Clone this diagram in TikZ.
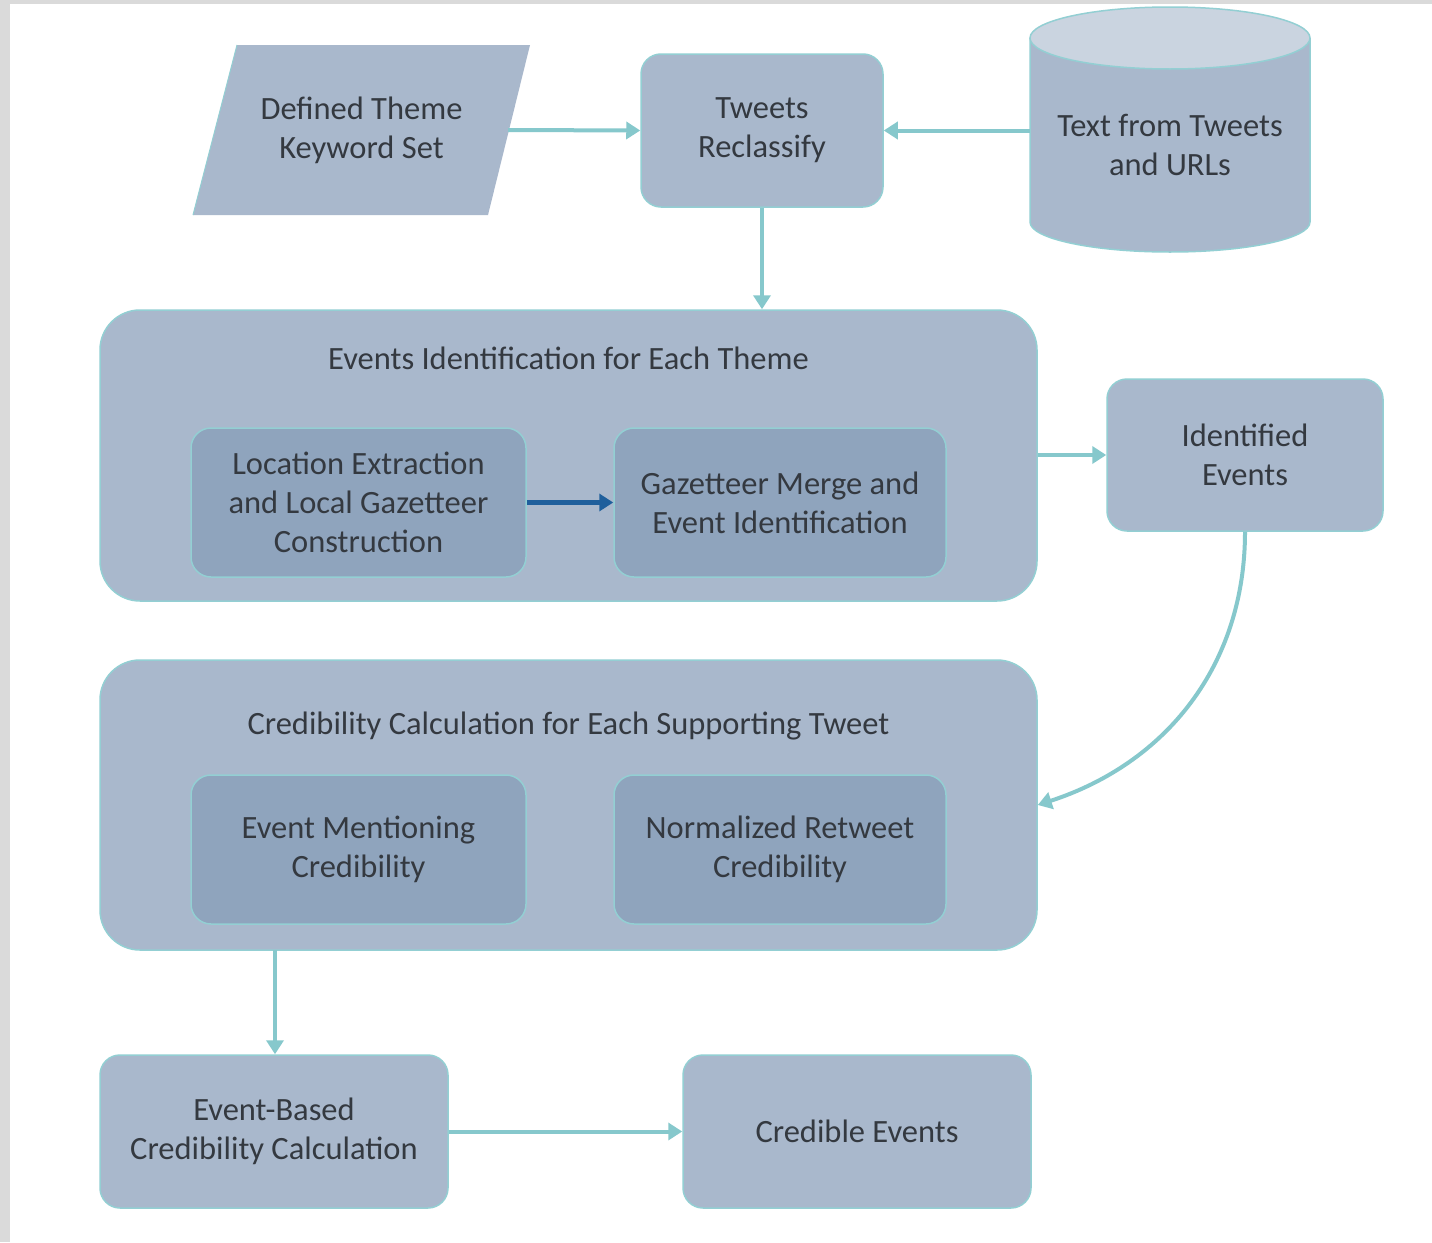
\documentclass[tikz,border=0pt]{standalone}
\usepackage{fontspec}
\setmainfont{Carlito}
\usetikzlibrary{arrows.meta}
\definecolor{boxfill}{HTML}{A9B8CC}
\definecolor{innerfill}{HTML}{8FA4BD}
\definecolor{edgec}{HTML}{93CFD3}
\definecolor{arrc}{HTML}{86C8CC}
\definecolor{darkarr}{HTML}{1F5F9C}
\definecolor{txt}{HTML}{343940}
\definecolor{cyltop}{HTML}{CAD4E0}
\definecolor{frame}{HTML}{DADADA}
\begin{document}
\begin{tikzpicture}[x=1pt,y=-1pt,
  every node/.style={font=\fontsize{32.5}{39}\selectfont, text=txt, align=center},
  rbox/.style={draw=edgec, line width=1.5pt, fill=boxfill, rounded corners=20pt, inner sep=0pt},
  ibox/.style={draw=edgec, line width=1.5pt, fill=innerfill, rounded corners=20pt, inner sep=0pt},
  bigbox/.style={draw=edgec, line width=1.5pt, fill=boxfill, rounded corners=40pt, inner sep=0pt},
  arr/.style={draw=arrc, line width=4pt, -{Triangle[length=14pt,width=17pt]}},
  darr/.style={draw=darkarr, line width=4.5pt, -{Triangle[length=14pt,width=17pt]}}
]
\fill[frame] (0,0) rectangle (1432,1242);
\fill[white] (10,4) rectangle (1432,1242);
\useasboundingbox (0,0) rectangle (1432,1242);

% parallelogram
\fill[boxfill] (237,45) -- (530,45) -- (488,215) -- (193,215) -- cycle;
\draw[edgec, line width=1pt] (237,45) -- (193,215);
\node[minimum width=293pt, minimum height=170pt, inner sep=0pt] (pg) at (361.5,130) {Defined Theme\\Keyword Set};

% tweets reclassify
\node[rbox, minimum width=242pt, minimum height=153pt] (tw) at (762,130.5) {Tweets\\Reclassify};

% cylinder
\filldraw[fill=boxfill, draw=edgec, line width=1.5pt] (1030,38) -- (1030,222) arc[start angle=180, end angle=0, x radius=140, y radius=30] -- (1310,38);
\filldraw[fill=cyltop, draw=edgec, line width=1.5pt] (1170,38) ellipse[x radius=140, y radius=31];
\node[minimum width=280pt, minimum height=200pt, inner sep=0pt] (cyl) at (1170,145) {Text from Tweets\\and URLs};

% events identification
\node[bigbox, minimum width=937pt, minimum height=291pt] (ev) at (568.5,455.5) {};
\node (evt) at (568.5,358) {Events Identification for Each Theme};
\node[ibox, minimum width=335pt, minimum height=149pt] (loc) at (358.5,502.5) {Location Extraction\\and Local Gazetteer\\Construction};
\node[ibox, minimum width=332pt, minimum height=149pt] (gaz) at (780,502.5) {Gazetteer Merge and\\Event Identification};

% identified events
\node[rbox, minimum width=276pt, minimum height=152pt] (ie) at (1245,455) {Identified\\Events};

% credibility calculation
\node[bigbox, minimum width=937pt, minimum height=290pt] (cc) at (568.5,805) {};
\node (cct) at (568.5,726) {Credibility Calculation for Each Supporting Tweet};
\node[ibox, minimum width=335pt, minimum height=149pt] (em) at (358.5,849.5) {Event Mentioning\\Credibility};
\node[ibox, minimum width=332pt, minimum height=149pt] (nr) at (780,849.5) {Normalized Retweet\\Credibility};

% bottom row
\node[rbox, minimum width=348pt, minimum height=153pt] (eb) at (274,1131.5) {Event-Based\\Credibility Calculation};
\node[rbox, minimum width=348pt, minimum height=153pt] (ce) at (857,1131.5) {Credible Events};

% connectors
\draw[arr] (pg.east) -- (tw.west);
\draw[arr] (cyl.west |- tw.east) -- (tw.east);
\draw[arr] (tw.south) -- (tw.south |- ev.north);
\draw[darr] (loc.east) -- (gaz.west);
\draw[arr] (ev.east |- ie.west) -- (ie.west);
\draw[arr] (ie.south) to[out=-90, in=18] (cc.east);
\coordinate (ccb) at (275,950);
\draw[arr] (ccb) -- (ccb |- eb.north);
\draw[arr] (eb.east) -- (ce.west);
\end{tikzpicture}
\end{document}
